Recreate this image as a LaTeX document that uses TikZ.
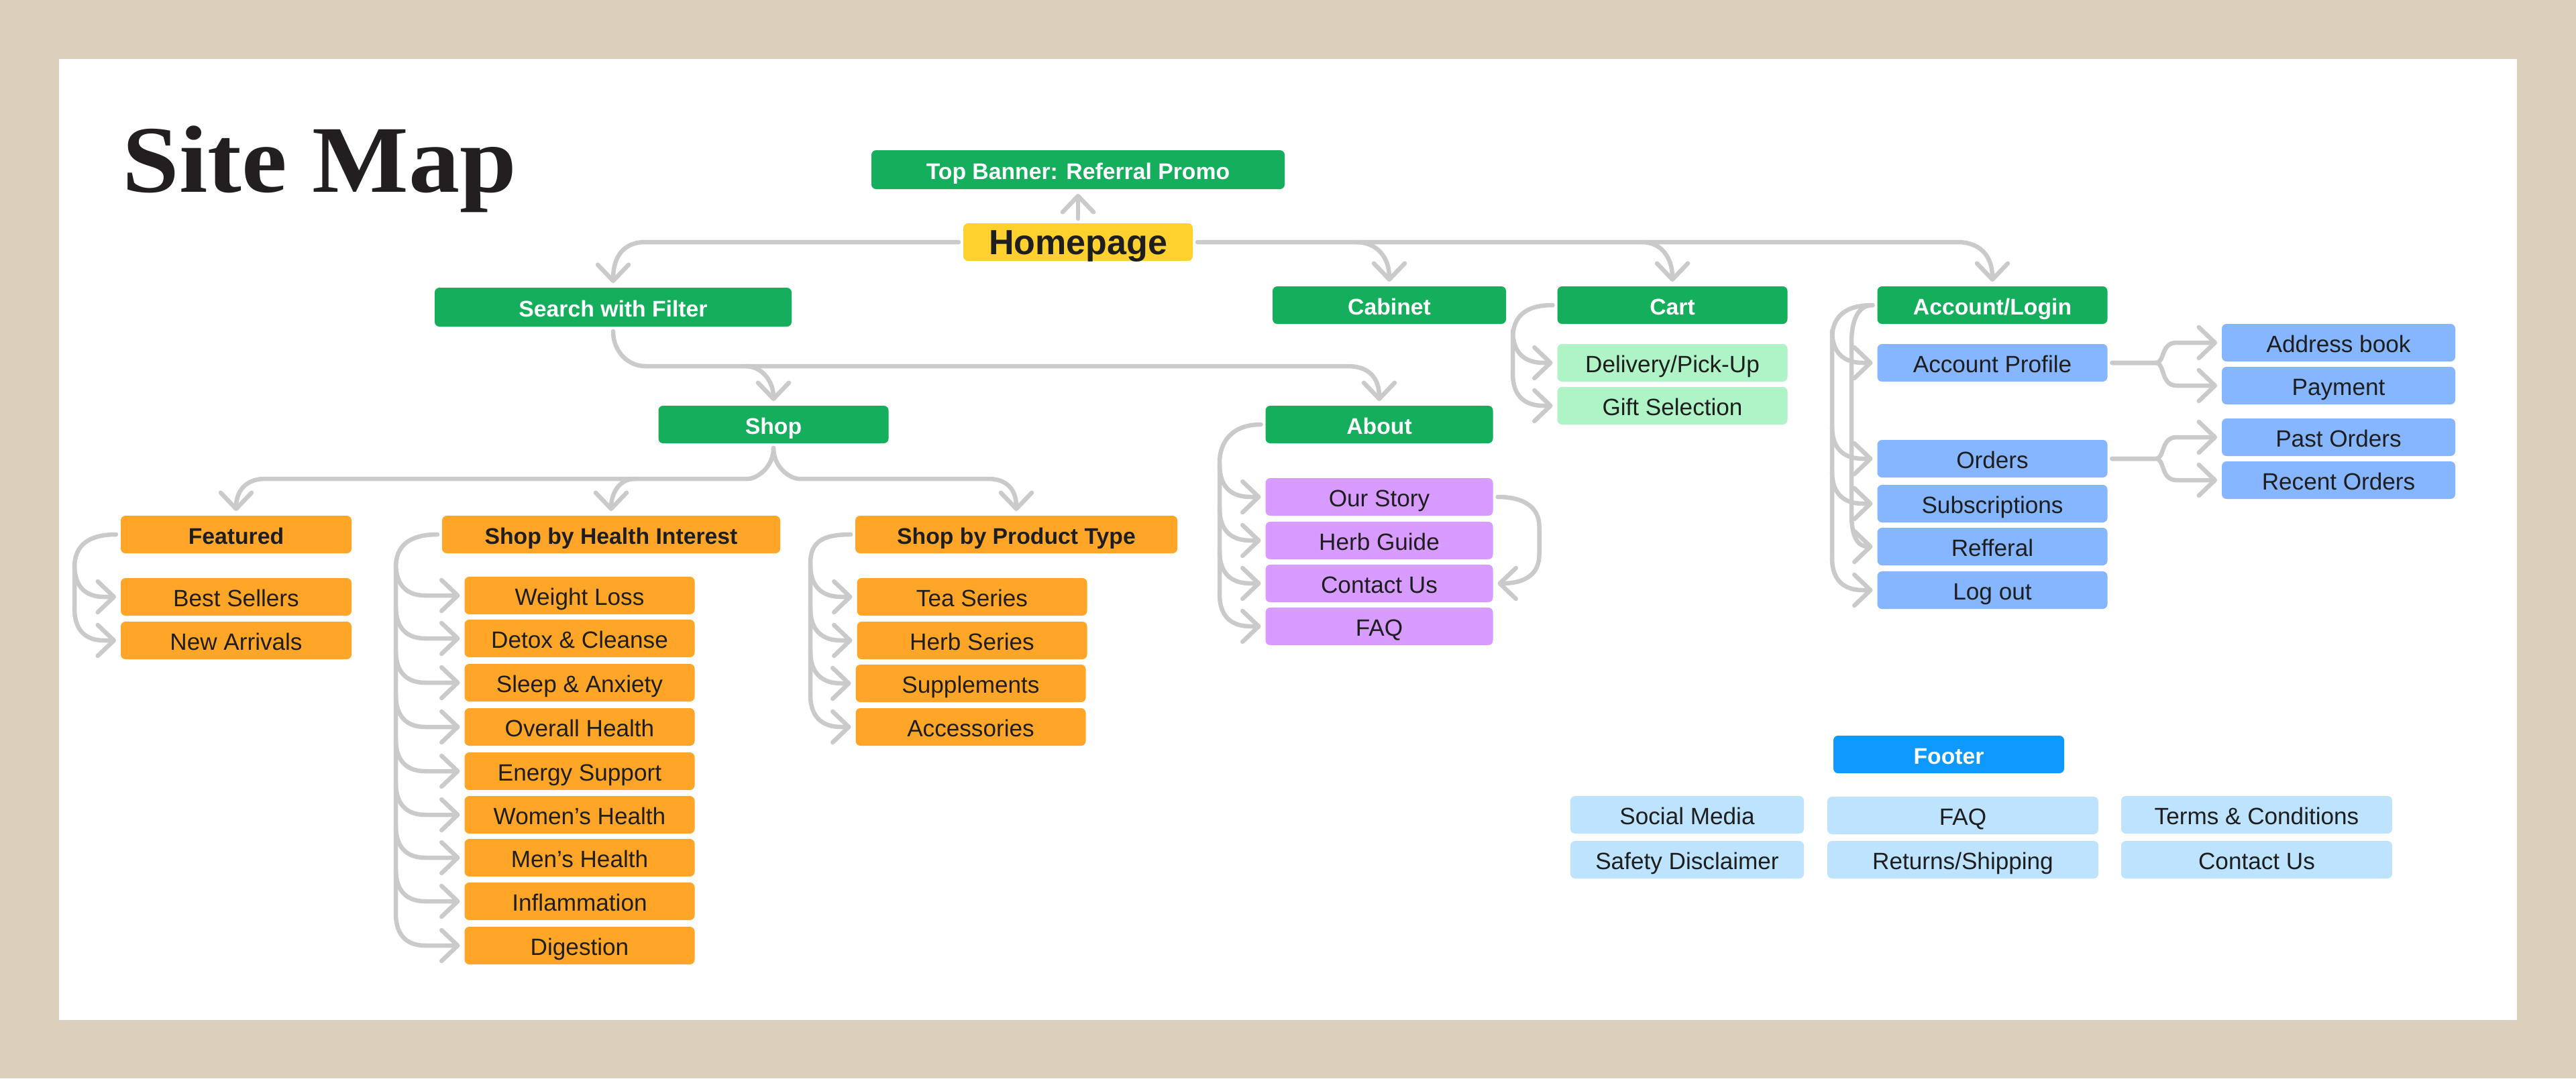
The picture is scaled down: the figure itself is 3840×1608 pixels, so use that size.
\documentclass[tikz,border=0pt]{standalone}
\usepackage{fontspec}
\setmainfont{Liberation Sans}
\newfontfamily\titlefont[FakeStretch=1.07]{Liberation Serif}
\usetikzlibrary{arrows.meta}
\definecolor{sand}{HTML}{DCCFBB}
\definecolor{wiregray}{HTML}{CBCACB}
\definecolor{inkdark}{HTML}{1E1E1E}
\definecolor{titleink}{HTML}{231F20}
\definecolor{sitegreen}{HTML}{14AE5C}
\definecolor{siteyellow}{HTML}{FFD12F}
\definecolor{siteorange}{HTML}{FFA629}
\definecolor{sitepurple}{HTML}{D89BFF}
\definecolor{sitemint}{HTML}{AFF4C6}
\definecolor{siteblue}{HTML}{85B6FF}
\definecolor{footblue}{HTML}{0D99FF}
\definecolor{footpale}{HTML}{BDE3FF}
\tikzset{
  box/.style={rounded corners=0.7mm,inner sep=0pt,outer sep=0.7mm,minimum width=34.3mm,minimum height=5.6mm,
    text height=2.8mm,text depth=0mm,text=inkdark,font=\fontsize{10}{12}\selectfont},
  head/.style={box,fill=sitegreen,text=white,font=\fontsize{9.6}{12}\selectfont\bfseries},
  orangehead/.style={box,fill=siteorange,font=\fontsize{9.6}{12}\selectfont\bfseries},
  orangebox/.style={box,fill=siteorange},
  purplebox/.style={box,fill=sitepurple,minimum width=33.9mm},
  mintbox/.style={box,fill=sitemint},
  bluebox/.style={box,fill=siteblue},
  palebox/.style={box,fill=footpale},
  wire/.style={draw=wiregray,line width=0.65mm,line cap=round},
  arrowlink/.style={wire,-{Straight Barb[round,length=2.4mm,width=4.6mm]}},
  twig/.style={to path={(\tikztostart |- \tikztotarget) ++(0,-48) .. controls +(0,34) and +(-0.6*#1,0) .. ++(#1,48) -- (\tikztotarget)}},
  twig/.default=44
}
\begin{document}
\begin{tikzpicture}[x=0.1mm,y=-0.1mm]
\fill[sand] (0,0) rectangle (3840,1608);
\fill[white] (88,88) rectangle (3752,1521);
\node[anchor=base west,inner sep=0pt,text=titleink,font=\titlefont\fontsize{40.5}{48}\selectfont\bfseries] (title) at (182,286) {Site Map};

\node[head,minimum width=61.6mm,minimum height=5.8mm] (banner) at (1607,253) {Top Banner: Referral Promo};
\node[box,fill=siteyellow,minimum width=34.2mm,text height=3.7mm,font=\fontsize{14.8}{16}\selectfont\bfseries] (home) at (1607,361) {Homepage};
\node[head,minimum width=53.2mm,minimum height=5.8mm] (search) at (914,458) {Search with Filter};
\node[head,minimum width=34.8mm] (cabinet) at (2071,455) {Cabinet};
\node[head] (cart) at (2493,455) {Cart};
\node[head] (account) at (2970,455) {Account/Login};
\node[head] (shop) at (1153,633) {Shop};
\node[head,minimum width=33.9mm] (about) at (2056,633) {About};

\node[orangehead,minimum width=34.4mm] (featured) at (352,797) {Featured};
\node[orangehead,minimum width=50.4mm] (health) at (911,797) {Shop by Health Interest};
\node[orangehead,minimum width=48mm] (product) at (1515,797) {Shop by Product Type};

\node[orangebox,minimum width=34.4mm] (best) at (352,890) {Best Sellers};
\node[orangebox,minimum width=34.4mm] (arrivals) at (352,955) {New Arrivals};

\node[orangebox] (weight) at (864,888) {Weight Loss};
\node[orangebox] (detox) at (864,952) {Detox \& Cleanse};
\node[orangebox] (sleep) at (864,1018) {Sleep \& Anxiety};
\node[orangebox] (overall) at (864,1084) {Overall Health};
\node[orangebox] (energy) at (864,1150) {Energy Support};
\node[orangebox] (women) at (864,1215) {Women’s Health};
\node[orangebox] (men) at (864,1279) {Men’s Health};
\node[orangebox] (inflam) at (864,1344) {Inflammation};
\node[orangebox] (digest) at (864,1410) {Digestion};

\node[orangebox] (tea) at (1449,890) {Tea Series};
\node[orangebox] (herbs) at (1449,955) {Herb Series};
\node[orangebox] (supp) at (1447,1019) {Supplements};
\node[orangebox] (access) at (1447,1084) {Accessories};

\node[purplebox] (story) at (2056,741) {Our Story};
\node[purplebox] (guide) at (2056,806) {Herb Guide};
\node[purplebox] (contact) at (2056,870) {Contact Us};
\node[purplebox] (faq) at (2056,934) {FAQ};

\node[mintbox] (delivery) at (2493,541) {Delivery/Pick-Up};
\node[mintbox] (gift) at (2493,605) {Gift Selection};

\node[bluebox] (profile) at (2970,541) {Account Profile};
\node[bluebox] (orders) at (2970,684) {Orders};
\node[bluebox] (subs) at (2970,751) {Subscriptions};
\node[bluebox] (refferal) at (2970,815) {Refferal};
\node[bluebox] (logout) at (2970,880) {Log out};

\node[bluebox,minimum width=34.8mm] (addr) at (3486,511) {Address book};
\node[bluebox,minimum width=34.8mm] (payment) at (3486,575) {Payment};
\node[bluebox,minimum width=34.8mm] (past) at (3486,652) {Past Orders};
\node[bluebox,minimum width=34.8mm] (recent) at (3486,716) {Recent Orders};

\node[box,fill=footblue,text=white,minimum width=34.4mm,font=\fontsize{9.6}{12}\selectfont\bfseries] (footer) at (2905,1125) {Footer};
\node[palebox,minimum width=34.8mm] (social) at (2515,1215) {Social Media};
\node[palebox,minimum width=40.4mm] (footfaq) at (2926,1216) {FAQ};
\node[palebox,minimum width=40.4mm] (terms) at (3364,1215) {Terms \& Conditions};
\node[palebox,minimum width=34.8mm] (safety) at (2515,1282) {Safety Disclaimer};
\node[palebox,minimum width=40.4mm] (returns) at (2926,1282) {Returns/Shipping};
\node[palebox,minimum width=40.4mm] (footcontact) at (3364,1282) {Contact Us};

\coordinate (fbus) at (111,846);
\coordinate (hbus) at (590,846);
\coordinate (pbus) at (1208,840);
\coordinate (abus) at (1818,690);
\coordinate (cbus) at (2255,505);
\coordinate (obus) at (2731,505);
\coordinate (ibus) at (2760,510);

\draw[arrowlink] (home.north) -- (banner.south);
\draw[arrowlink] (home.west) -- ++(-467,0) .. controls +(-32,0) and +(0,-40) .. (search.north);
\draw[arrowlink] (home.east) -- ++(1133,0) .. controls +(32,0) and +(0,-40) .. (account.north);
\draw[arrowlink] (home.east) ++(236,0) .. controls +(32,0) and +(0,-36) .. (cabinet.north);
\draw[arrowlink] (home.east) ++(663,0) .. controls +(28,0) and +(0,-36) .. (cart.north);

\draw[arrowlink] (search.south) .. controls +(0,30) and +(-26,0) .. ++(48,52) -- ++(1047,0) .. controls +(30,0) and +(0,-36) .. (about.north);
\draw[arrowlink] (search.south) ++(197,52) .. controls +(26,0) and +(0,-28) .. (shop.north);

\draw[arrowlink] (shop.south) .. controls +(0,30) and +(12,0) .. ++(-38,46) -- ++(-720,0) .. controls +(-30,0) and +(0,-28) .. (featured.north);
\draw[arrowlink] (shop.south) ++(-207,46) .. controls +(-24,0) and +(0,-24) .. (health.north);
\draw[arrowlink] (shop.south) .. controls +(0,30) and +(-12,0) .. ++(38,46) -- ++(282,0) .. controls +(28,0) and +(0,-32) .. (product.north);

\draw[wire] (featured.west) .. controls +(-42,0) and +(0,-32) .. (fbus) -- ++(0,61);
\draw[arrowlink] (fbus) to[twig] (best.west);
\draw[arrowlink] (fbus) to[twig] (arrivals.west);

\draw[wire] (health.west) .. controls +(-42,0) and +(0,-32) .. (hbus) -- ++(0,516);
\draw[arrowlink] (hbus) to[twig] (weight.west);
\draw[arrowlink] (hbus) to[twig] (detox.west);
\draw[arrowlink] (hbus) to[twig] (sleep.west);
\draw[arrowlink] (hbus) to[twig] (overall.west);
\draw[arrowlink] (hbus) to[twig] (energy.west);
\draw[arrowlink] (hbus) to[twig] (women.west);
\draw[arrowlink] (hbus) to[twig] (men.west);
\draw[arrowlink] (hbus) to[twig] (inflam.west);
\draw[arrowlink] (hbus) to[twig] (digest.west);

\draw[wire] (product.west) .. controls +(-42,0) and +(0,-32) .. (pbus) -- ++(0,196);
\draw[arrowlink] (pbus) to[twig=46] (tea.west);
\draw[arrowlink] (pbus) to[twig=46] (herbs.west);
\draw[arrowlink] (pbus) to[twig=46] (supp.west);
\draw[arrowlink] (pbus) to[twig=46] (access.west);

\draw[wire] (about.west) .. controls +(-42,0) and +(0,-32) .. (abus) -- ++(0,196);
\draw[arrowlink] (abus) to[twig=46] (story.west);
\draw[arrowlink] (abus) to[twig=46] (guide.west);
\draw[arrowlink] (abus) to[twig=46] (contact.west);
\draw[arrowlink] (abus) to[twig=46] (faq.west);
\draw[arrowlink] (story.east) .. controls +(40,0) and +(0,-28) .. ++(62,44) -- ++(0,42) .. controls +(0,30) and +(40,0) .. (contact.east);

\draw[wire] (cart.west) .. controls +(-42,0) and +(0,-32) .. (cbus) -- ++(0,52);
\draw[arrowlink] (cbus) to[twig=46] (delivery.west);
\draw[arrowlink] (cbus) to[twig=46] (gift.west);

\draw[wire] (account.west) .. controls +(-42,0) and +(0,-32) .. (obus) -- ++(0,327);
\draw[wire] (account.west) .. controls +(-22,0) and +(0,-32) .. (ibus) -- ++(0,257);
\draw[arrowlink] (obus) to[twig=46] (profile.west);
\draw[arrowlink] (obus) to[twig=46] (orders.west);
\draw[arrowlink] (obus) to[twig=46] (subs.west);
\draw[arrowlink] (ibus) to[twig=24] (refferal.west);
\draw[arrowlink] (obus) to[twig=46] (logout.west);

\draw[arrowlink] (profile.east) -- ++(65,0) .. controls +(14,0) and +(-24,0) .. ++(31,-30) -- (addr.west);
\draw[arrowlink] (profile.east) -- ++(65,0) .. controls +(14,0) and +(-24,0) .. ++(31,34) -- (payment.west);
\draw[arrowlink] (orders.east) -- ++(65,0) .. controls +(14,0) and +(-24,0) .. ++(31,-32) -- (past.west);
\draw[arrowlink] (orders.east) -- ++(65,0) .. controls +(14,0) and +(-24,0) .. ++(31,32) -- (recent.west);
\end{tikzpicture}
\end{document}
